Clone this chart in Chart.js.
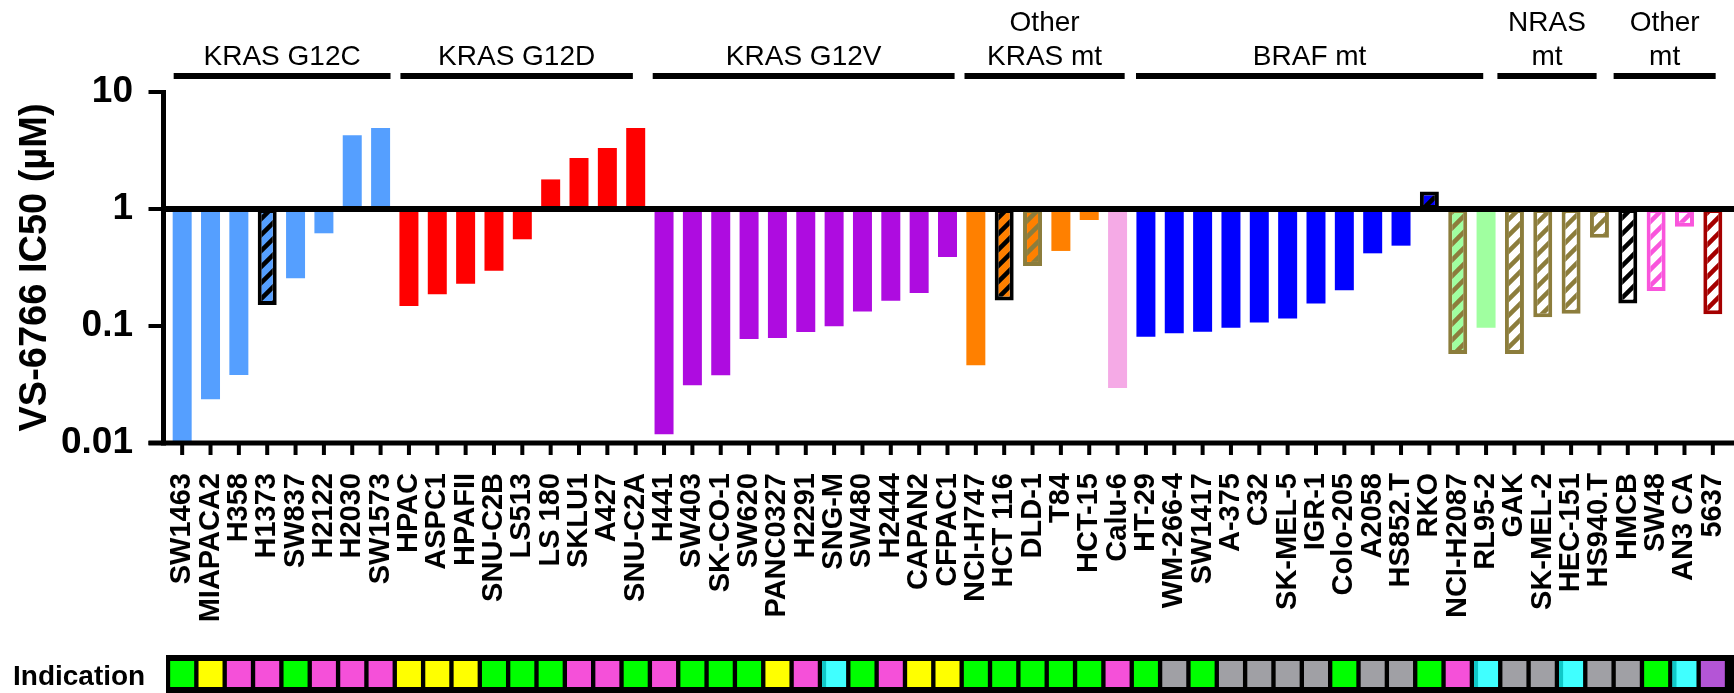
<!DOCTYPE html>
<html>
<head>
<meta charset="utf-8">
<script src="https://cdn.jsdelivr.net/npm/chart.js@4.4.1/dist/chart.umd.min.js"></script>
<style>
  html, body { margin: 0; padding: 0; background: #fff; }
</style>
</head>
<body>
<canvas id="chart" width="1734" height="693"></canvas>
<script>
// cell lines, left to right
const cellLines = [
  'SW1463', 'MIAPACA2', 'H358', 'H1373', 'SW837', 'H2122', 'H2030', 'SW1573',
  'HPAC', 'ASPC1', 'HPAFII', 'SNU-C2B', 'LS513', 'LS 180', 'SKLU1', 'A427', 'SNU-C2A',
  'H441', 'SW403', 'SK-CO-1', 'SW620', 'PANC0327', 'H2291', 'SNG-M', 'SW480', 'H2444', 'CAPAN2', 'CFPAC1',
  'NCI-H747', 'HCT 116', 'DLD-1', 'T84', 'HCT-15', 'Calu-6',
  'HT-29', 'WM-266-4', 'SW1417', 'A-375', 'C32', 'SK-MEL-5', 'IGR-1', 'Colo-205', 'A2058', 'HS852.T', 'RKO', 'NCI-H2087', 'RL95-2',
  'GAK', 'SK-MEL-2', 'HEC-151', 'HS940.T',
  'HMCB', 'SW48', 'AN3 CA', '5637'
];

// VS-6766 IC50 (uM)
const ic50 = [
  0.01, 0.0236, 0.0381, 0.151, 0.256, 0.62, 4.26, 4.92,
  0.148, 0.187, 0.23, 0.297, 0.551, 1.79, 2.73, 3.32, 4.92,
  0.0119, 0.0311, 0.0379, 0.0774, 0.0789, 0.0889, 0.0994, 0.133, 0.164, 0.191, 0.389,
  0.0461, 0.165, 0.326, 0.438, 0.805, 0.0295,
  0.081, 0.0866, 0.0895, 0.0968, 0.107, 0.116, 0.156, 0.202, 0.418, 0.486, 1.41, 0.0576, 0.0968,
  0.0576, 0.119, 0.127, 0.569,
  0.156, 0.199, 0.706, 0.126
];

// mutation class of each line (drives the bar style)
const mutClass = [
  'G12C', 'G12C', 'G12C', 'G12C+', 'G12C', 'G12C', 'G12C', 'G12C',
  'G12D', 'G12D', 'G12D', 'G12D', 'G12D', 'G12D', 'G12D', 'G12D', 'G12D',
  'G12V', 'G12V', 'G12V', 'G12V', 'G12V', 'G12V', 'G12V', 'G12V', 'G12V', 'G12V', 'G12V',
  'KRAS', 'KRAS+', 'KRAS*', 'KRAS', 'KRAS', 'Q61',
  'BRAF', 'BRAF', 'BRAF', 'BRAF', 'BRAF', 'BRAF', 'BRAF', 'BRAF', 'BRAF', 'BRAF', 'BRAF+', 'BRAF2*', 'BRAF2',
  'NRAS*', 'NRAS*', 'NRAS*', 'NRAS*',
  'WT+', 'MUTp', 'MUTp', 'MUTr'
];

const indication = [
  'CRC', 'Pancreas', 'Lung', 'Lung', 'CRC', 'Lung', 'Lung', 'Lung',
  'Pancreas', 'Pancreas', 'Pancreas', 'CRC', 'CRC', 'CRC', 'Lung', 'Lung', 'CRC',
  'Lung', 'CRC', 'CRC', 'CRC', 'Pancreas', 'Lung', 'Endometrial', 'CRC', 'Lung', 'Pancreas', 'Pancreas',
  'CRC', 'CRC', 'CRC', 'CRC', 'CRC', 'Lung',
  'CRC', 'Melanoma', 'CRC', 'Melanoma', 'Melanoma', 'Melanoma', 'Melanoma', 'CRC', 'Melanoma', 'Melanoma', 'CRC', 'Lung', 'Endometrial',
  'Melanoma', 'Melanoma', 'Endometrial', 'Melanoma',
  'Melanoma', 'CRC', 'Endometrial', 'Bladder'
];

// bracket groups above the plot (spans in category units)
const groupNames = [['KRAS G12C'], ['KRAS G12D'], ['KRAS G12V'], ['Other', 'KRAS mt'], ['BRAF mt'], ['NRAS', 'mt'], ['Other', 'mt']];
const groupFrom = [-0.3, 7.7, 16.6, 27.6, 33.65, 46.4, 50.5];
const groupTo = [7.35, 15.9, 27.25, 33.25, 45.9, 49.9, 54.1];

const yTicks = [0.01, 0.1, 1, 10];
const yTickLabels = ['0.01', '0.1', '1', '10'];

const barStyles = {
  'G12C':   { fill: '#559FFF' },
  'G12C+':  { fill: '#559FFF', hatch: '#000000' },
  'G12D':   { fill: '#FF0000' },
  'G12V':   { fill: '#AE0CE0' },
  'KRAS':   { fill: '#FF8000' },
  'KRAS+':  { fill: '#FF8000', hatch: '#000000' },
  'KRAS*':  { fill: '#FF8000', hatch: '#8C7D3C' },
  'Q61':    { fill: '#F5AAE6' },
  'BRAF':   { fill: '#0000FF' },
  'BRAF+':  { fill: '#0000FF', hatch: '#000000' },
  'BRAF2*': { fill: '#A0FFA0', hatch: '#8C7D3C' },
  'BRAF2':  { fill: '#A0FFA0' },
  'NRAS*':  { fill: '#FFFFFF', hatch: '#8C7D3C' },
  'WT+':    { fill: '#FFFFFF', hatch: '#000000' },
  'MUTp':   { fill: '#FFFFFF', hatch: '#F955DC' },
  'MUTr':   { fill: '#FFFFFF', hatch: '#A50000' }
};

const indicationColors = {
  CRC: '#00FF00', Pancreas: '#FFFF00', Lung: '#F550D9',
  Melanoma: '#A0A0A5', Endometrial: '#40FFFF', Bladder: '#B455D6'
};

const FONT = '"Liberation Sans", Arial, sans-serif';
Chart.defaults.font.family = FONT;
Chart.defaults.color = '#000';

const canvas = document.getElementById('chart');

function hatch(bg, fg) {
  const t = 16;
  const tile = document.createElement('canvas');
  tile.width = tile.height = t;
  const g = tile.getContext('2d');
  g.fillStyle = bg;
  g.fillRect(0, 0, t, t);
  g.strokeStyle = fg;
  g.lineWidth = 4.5;
  g.beginPath();
  g.moveTo(-t, t); g.lineTo(t, -t);
  g.moveTo(0, t); g.lineTo(t, 0);
  g.moveTo(0, 2 * t); g.lineTo(2 * t, 0);
  g.stroke();
  return canvas.getContext('2d').createPattern(tile, 'repeat');
}

const fills = mutClass.map(m => {
  const s = barStyles[m];
  return s.hatch ? hatch(s.fill, s.hatch) : s.fill;
});

const frame = {
  id: 'frame',
  afterDatasetsDraw(chart) {
    const { ctx, chartArea: area, scales: { x, y } } = chart;
    const axisX = area.left - 4.5;
    const yOne = y.getPixelForValue(1);
    ctx.save();
    ctx.fillStyle = '#000';
    ctx.fillRect(axisX, yOne - 3, chart.width - axisX, 6);
    ctx.fillRect(axisX - 2.5, y.top - 2, 5, y.bottom - y.top + 4.5);
    ctx.fillRect(axisX - 15, y.bottom - 2.5, chart.width - axisX + 15, 5);
    yTicks.forEach(v => {
      const p = y.getPixelForValue(v);
      ctx.fillRect(axisX - 15, p - 2, 15, 4);
    });
    cellLines.forEach((c, i) => {
      const p = x.getPixelForValue(i);
      ctx.fillRect(p - 2, y.bottom, 4, 12);
    });

    ctx.font = '28px ' + FONT;
    ctx.textAlign = 'center';
    ctx.textBaseline = 'alphabetic';
    groupNames.forEach((lines, g) => {
      const x0 = x.getPixelForValue(groupFrom[g]);
      const x1 = x.getPixelForValue(groupTo[g]);
      ctx.fillRect(x0, area.top - 19, x1 - x0, 6);
      const cx = (x0 + x1) / 2;
      lines.forEach((s, k) => {
        ctx.fillText(s, cx, area.top - 27 - (lines.length - 1 - k) * 34);
      });
    });

    // indication strip
    const top = chart.height - 38;
    ctx.fillRect(axisX + 2.5, top, chart.width - axisX, 38);
    indication.forEach((d, i) => {
      const p = x.getPixelForValue(i);
      ctx.fillStyle = indicationColors[d];
      ctx.fillRect(p - 12, top + 6, 24, 26);
      if (d === 'Endometrial') {
        ctx.fillStyle = '#10C8C8';
        ctx.fillRect(p - 12, top + 6, 4, 26);
      }
    });
    ctx.fillStyle = '#000';
    ctx.font = 'bold 28px ' + FONT;
    ctx.textAlign = 'left';
    ctx.fillText('Indication', 13, chart.height - 8);
    ctx.restore();
  }
};

new Chart(canvas, {
  type: 'bar',
  data: {
    labels: cellLines,
    datasets: [{
      data: ic50.map(v => [1, v]),
      backgroundColor: fills,
      borderColor: mutClass.map(m => barStyles[m].hatch || barStyles[m].fill),
      borderWidth: mutClass.map(m => (barStyles[m].hatch ? 4 : 0)),
      borderSkipped: false,
      categoryPercentage: 1,
      barPercentage: 0.67
    }]
  },
  options: {
    responsive: false,
    animation: false,
    devicePixelRatio: 1,
    layout: { padding: { top: 92, right: 7, left: 0, bottom: 0 } },
    plugins: { legend: { display: false }, tooltip: { enabled: false } },
    scales: {
      x: {
        type: 'category',
        offset: true,
        grid: { display: false },
        border: { display: false },
        ticks: {
          autoSkip: false,
          minRotation: 90,
          maxRotation: 90,
          padding: 22,
          color: '#000',
          font: { size: 29, weight: 'bold' }
        },
        afterFit(s) { s.height = 250; s.paddingLeft = 0; s.paddingRight = 0; }
      },
      y: {
        type: 'logarithmic',
        min: 0.01,
        max: 10,
        grid: { display: false },
        border: { display: false },
        afterBuildTicks(s) { s.ticks = yTicks.map(v => ({ value: v })); },
        ticks: {
          padding: 27,
          color: '#000',
          font: { size: 37, weight: 'bold' },
          callback: (v, i) => yTickLabels[i]
        },
        title: {
          display: true,
          text: 'VS-6766 IC50 (µM)',
          color: '#000',
          font: { size: 38, weight: 'bold' },
          padding: { top: 13, bottom: 0 }
        },
        afterFit(s) { s.width = 168; }
      }
    }
  },
  plugins: [frame]
});
</script>
</body>
</html>
